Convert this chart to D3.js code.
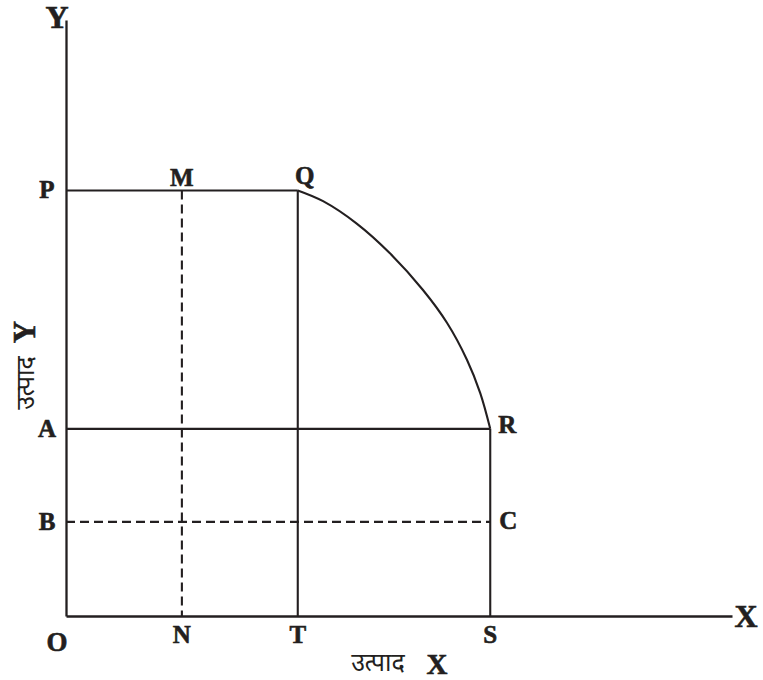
<!DOCTYPE html>
<html>
<head>
<meta charset="utf-8">
<script src="https://cdn.jsdelivr.net/npm/d3@7"></script>
<style>
  html, body { margin: 0; padding: 0; background: #fff; }
  svg { display: block; }
</style>
</head>
<body>
<svg id="chart" width="763" height="680"></svg>
<script>
// ---- data (arbitrary units) ----
const xMarks = ["N", "T", "S"];
const xMarkValues = [1.74, 3.48, 6.37];
const yMarks = ["P", "A", "B"];
const yMarkValues = [7.14, 3.14, 1.58];
// production-possibility arc from Q to R
const curveX = [3.48, 3.86, 4.37, 4.86, 5.36, 5.72, 6.02, 6.22, 6.37];
const curveY = [7.14, 6.96, 6.58, 6.09, 5.47, 4.92, 4.30, 3.74, 3.14];
const axisLabelX = "उत्पाद";
const axisLabelY = "उत्पाद";

const ink = "#231f20";
const svg = d3.select("#chart");
const x = d3.scaleLinear().domain([0, 10]).range([66, 732]);
const y = d3.scaleLinear().domain([0, 10]).range([616, 20]);

const xN = xMarkValues[0], xT = xMarkValues[1], xS = xMarkValues[2];
const yP = yMarkValues[0], yA = yMarkValues[1], yB = yMarkValues[2];

// axes (plain lines, no ticks)
const gx = svg.append("g").attr("transform", `translate(0,${y(0)})`)
  .call(d3.axisBottom(x).tickValues([]).tickSizeOuter(0));
const gy = svg.append("g").attr("transform", `translate(${x(0)},0)`)
  .call(d3.axisLeft(y).tickValues([]).tickSizeOuter(0));
[gx, gy].forEach(g => g.select(".domain").attr("stroke", ink).attr("stroke-width", 2.3));

function seg(x1, y1, x2, y2, dashed) {
  svg.append("line")
    .attr("x1", x(x1)).attr("y1", y(y1))
    .attr("x2", x(x2)).attr("y2", y(y2))
    .attr("stroke", ink).attr("stroke-width", 2.1)
    .attr("stroke-dasharray", dashed ? "9,5" : null);
}

// solid lines
seg(0, yP, xT, yP, false);          // P-Q
seg(xT, yP, xT, 0, false);          // Q-T
seg(0, yA, xS, yA, false);          // A-R
seg(xS, yA, xS, 0, false);          // R-S
// dashed lines
seg(xN, yP, xN, 0, true);           // M-N
seg(0, yB, xS, yB, true);           // B-C

// curve Q -> R
const pts = curveX.map((v, i) => [v, curveY[i]]);
svg.append("path")
  .datum(pts)
  .attr("fill", "none")
  .attr("stroke", ink)
  .attr("stroke-width", 2.1)
  .attr("d", d3.line().x(d => x(d[0])).y(d => y(d[1])).curve(d3.curveCatmullRom.alpha(0.5)));

// labels
const serif = "'Liberation Serif', 'Times New Roman', serif";
function label(txt, px, py, size, anchor) {
  svg.append("text")
    .attr("x", px).attr("y", py)
    .attr("text-anchor", anchor || "middle")
    .attr("font-family", serif)
    .attr("font-weight", "bold")
    .attr("font-size", size)
    .attr("fill", ink)
    .attr("stroke", ink).attr("stroke-width", 0.6)
    .text(txt);
}

label("Y", x(0) - 9, 28, 32);
label("X", 746, 627, 32);
label("O", x(0) - 9, 651, 27);
xMarks.forEach((m, i) => label(m, x(xMarkValues[i]), 643, 25));
yMarks.forEach((m, i) => label(m, 47, y(yMarkValues[i]) + 8, 25));
label("M", x(xN), y(yP) - 4, 25);
label("Q", x(xT) + 7, y(yP) - 6, 25);
label("R", x(xS) + 17, y(yA) + 4, 25);
label("C", x(xS) + 18, y(yB) + 7, 25);

// axis titles
const deva = "'Noto Sans Devanagari', 'Lohit Devanagari', 'Mangal', 'FreeSans', sans-serif";
svg.append("text")
  .attr("x", 378).attr("y", 671)
  .attr("text-anchor", "middle")
  .attr("font-family", deva).attr("font-size", 25).attr("fill", ink)
  .text(axisLabelX);
label("X", 437, 674, 29);

const gyl = svg.append("g").attr("transform", "translate(34,368) rotate(-90)");
gyl.append("text")
  .attr("x", -15).attr("y", 0)
  .attr("text-anchor", "middle")
  .attr("font-family", deva).attr("font-size", 25).attr("fill", ink)
  .text(axisLabelY);
gyl.append("text")
  .attr("x", 36).attr("y", 1)
  .attr("text-anchor", "middle")
  .attr("font-family", serif).attr("font-weight", "bold")
  .attr("font-size", 31).attr("fill", ink)
  .attr("stroke", ink).attr("stroke-width", 0.6)
  .text("Y");
</script>
</body>
</html>
